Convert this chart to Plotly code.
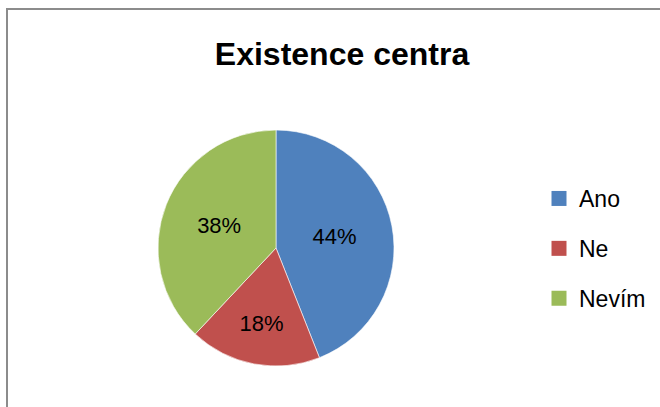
import plotly.graph_objects as go

labels = ["Ano", "Ne", "Nevím"]
values = [44, 18, 38]
colors = ["#4F81BD", "#C0504D", "#9BBB59"]
title_text = "Existence centra"

W, H = 660, 407

fig = go.Figure()
fig.add_trace(go.Pie(
    labels=labels, values=values, sort=False, direction="clockwise", rotation=0,
    marker=dict(colors=colors, line=dict(color="white", width=0.6)),
    textinfo="percent", textposition="inside", insidetextorientation="horizontal",
    textfont=dict(color="black", size=22, family="Liberation Sans, Arial, sans-serif"),
    domain=dict(x=[158 / W, 394 / W], y=[41 / H, 277 / H]),
    showlegend=False, hoverinfo="label+percent",
))
for lab, col in zip(labels, colors):
    fig.add_trace(go.Scatter(
        x=[None], y=[None], mode="markers", name=lab, legendgroup=lab,
        marker=dict(symbol="square", size=15, color=col),
    ))

fig.update_layout(
    width=W, height=H, margin=dict(l=0, r=0, t=0, b=0),
    paper_bgcolor="white", plot_bgcolor="white",
    xaxis=dict(visible=False), yaxis=dict(visible=False),
    uniformtext=dict(minsize=22, mode="show"),
    title=dict(text="<b>" + title_text + "</b>", x=342 / W, xanchor="center",
               y=1 - 54 / H, yanchor="middle", yref="container",
               font=dict(size=32, color="black", family="Liberation Sans Narrow, Arial Narrow, Liberation Sans, sans-serif")),
    legend=dict(x=539 / W, y=1 - 177 / H, xanchor="left", yanchor="top",
                font=dict(size=23, color="black", family="Liberation Sans, Arial, sans-serif"),
                tracegroupgap=17, itemsizing="trace", bgcolor="rgba(0,0,0,0)"),
    shapes=[dict(type="rect", xref="paper", yref="paper",
                 x0=7 / W, x1=1.05, y0=-0.05, y1=1 - 9 / H,
                 line=dict(color="#8C8C8C", width=2), fillcolor="rgba(0,0,0,0)", layer="below")],
)

fig.write_html("out.html")
